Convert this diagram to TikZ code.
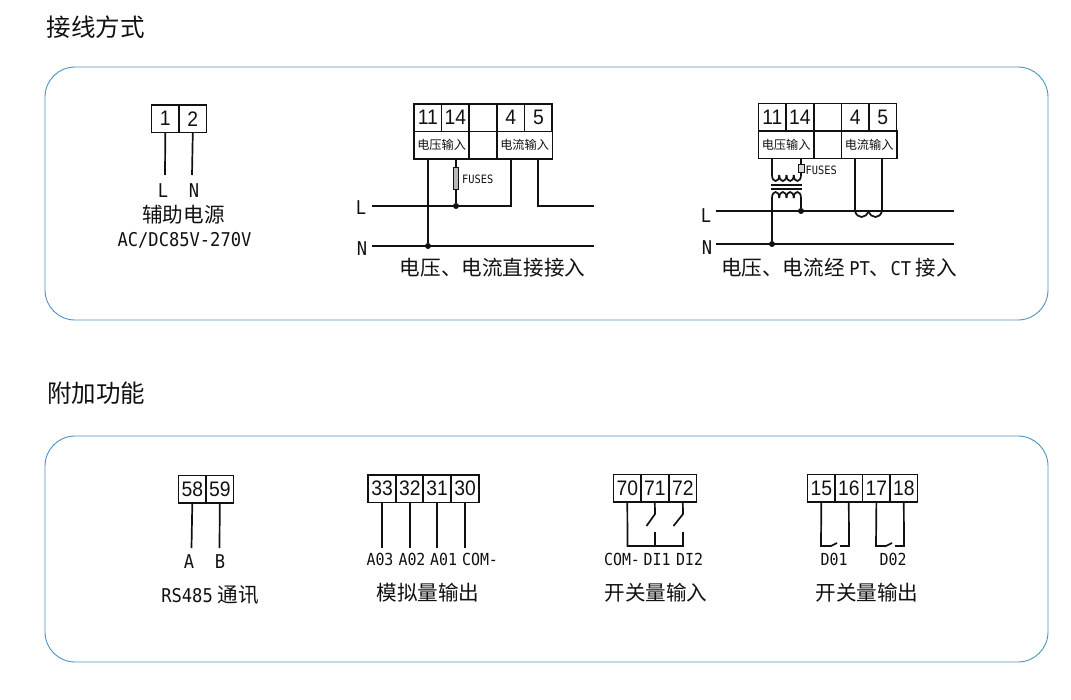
\documentclass[tikz,border=0pt]{standalone}
\usepackage{fontspec}
\usetikzlibrary{calc}
\setmainfont{Noto Sans CJK SC}
\newfontfamily\lat[FakeStretch=0.9]{DejaVu Sans Mono}
\newfontfamily\dig[FakeStretch=0.92]{Liberation Sans}
\newcommand{\capfont}{\lat\fontsize{19}{19}\selectfont}
\definecolor{framec}{HTML}{4A93BE}
\definecolor{inkc}{HTML}{111111}
\tikzset{
  cell/.style={draw=inkc,line width=1.6pt,anchor=north west,minimum width=27.6pt,minimum height=27.5pt,inner sep=0pt,outer sep=0pt,text=inkc,font=\dig\fontsize{21}{21}\selectfont},
  subcell/.style={cell,minimum width=55.3pt,font=\fontsize{12.2}{12}\selectfont},
  panel/.style={draw=framec,line width=0.9pt,rounded corners=30pt},
  wire/.style={draw=inkc,line width=1.7pt},
  junction/.style={circle,fill=inkc,inner sep=0pt,minimum size=6pt},
  head/.style={text=inkc,font=\fontsize{24.5}{25}\selectfont,inner sep=0pt},
  captext/.style={text=inkc,font=\fontsize{20.6}{21}\selectfont,inner sep=0pt},
  tag/.style={text=inkc,font=\lat\fontsize{19}{19}\selectfont,inner sep=0pt},
  smalltag/.style={tag,font=\lat\fontsize{16.6}{17}\selectfont},
  fuse/.style={draw=inkc,fill=gray!55,line width=0.5pt,minimum width=5pt,minimum height=22pt,inner sep=0pt},
  fusetag/.style={text=inkc,font=\lat\fontsize{11.5}{12}\selectfont,inner sep=0pt},
}
\begin{document}
\begin{tikzpicture}[x=1pt,y=-1pt]
\useasboundingbox (0,0) rectangle (1071,699);

\node[head] (title1) at (95.5,27) {接线方式};
\node[head] (title2) at (96,393) {附加功能};
\draw[panel] (45,67) rectangle (1048,320);
\draw[panel] (45,436) rectangle (1048,662);

% power
\foreach \t/\x in {1/151.5,2/179} \node[cell] (p\t) at (\x,105) {\t};
\node[tag] (pl) at (163,191) {L};
\node[tag] (pn) at (194,191) {N};
\coordinate (pa) at (165,175);
\coordinate (pb) at (192,175);
\draw[wire] (p1.south) -- (pa);
\draw[wire] (p2.south) -- (pb);
\node[captext] (pcap) at (183.5,215) {辅助电源};
\node[tag] (pcap2) at (184.5,240) {AC/DC85V-270V};

% direct
\foreach \t/\x in {11/414,14/441.6,4/497,5/524.6} \node[cell] (d\t) at (\x,104) {\t};
\node[cell] (dgap) at (469.2,104) {};
\node[subcell] (dvolt) at (414,131.5) {电压输入};
\node[cell] (dgap2) at (469.2,131.5) {};
\node[subcell] (dcur) at (497,131.5) {电流输入};
\node[tag] (dl) at (361,208) {L};
\node[tag] (dn) at (362,249) {N};
\coordinate (dla) at (372,206);
\coordinate (dlb) at (511,206);
\coordinate (dlc) at (538,206);
\coordinate (dld) at (594,206);
\coordinate (dna) at (372,246);
\coordinate (dnb) at (594,246);
\node[junction] (dj1) at (456,206) {};
\node[junction] (dj2) at (428,246) {};
\node[fuse] (dfuse) at (456,178) {};
\node[fusetag,anchor=west] (dftag) at (462,179) {FUSES};
\draw[wire] (dla) -- (dlb) -- (dlb |- dcur.south);
\draw[wire] (dna) -- (dnb);
\draw[wire] (dld) -- (dlc) -- (dlc |- dcur.south);
\draw[wire] (dj2 |- dvolt.south) -- (dj2);
\draw[wire] (dj1 |- dvolt.south) -- (dfuse.north);
\draw[wire] (dfuse.south) -- (dj1);
\node[captext] (dcap) at (492.5,268) {电压、电流直接接入};

% via transformers
\foreach \t/\x in {11/758.5,14/786,4/841.5,5/869} \node[cell] (t\t) at (\x,103.5) {\t};
\node[cell] (tgap) at (813.7,103.5) {};
\node[subcell] (tvolt) at (758.5,131) {电压输入};
\node[cell] (tgap2) at (813.7,131) {};
\node[subcell] (tcur) at (841.5,131) {电流输入};
\node[tag] (tl) at (706,216) {L};
\node[tag] (tn) at (707,248) {N};
\coordinate (tla) at (716,211);
\coordinate (tlb) at (954,211);
\coordinate (tna) at (716,244);
\coordinate (tnb) at (954,244);
\coordinate (ta) at (772,175);
\coordinate (tb) at (801,175);
\coordinate (tc) at (772,198);
\coordinate (td) at (801,198);
\coordinate (te) at (855,211);
\coordinate (tf) at (882,211);
\node[junction] (tj1) at (801,211) {};
\node[junction] (tj2) at (772,244) {};
\draw[wire,line width=1.3pt] (tla) -- (tlb);
\draw[wire,line width=1.3pt] (tna) -- (tnb);
\draw[wire] (ta |- tvolt.south) -- (ta);
\draw[wire] (tb |- tvolt.south) -- (tb);
\foreach \x in {772,779.25,786.5,793.75}
  \draw[wire] (\x,175) .. controls (\x,183) and (\x+7.25,183) .. (\x+7.25,175);
\draw[wire] (771,185) -- (802,185);
\draw[wire] (771,189) -- (802,189);
\foreach \x in {772,779.25,786.5,793.75}
  \draw[wire] (\x,198) .. controls (\x,190) and (\x+7.25,190) .. (\x+7.25,198);
\draw[wire] (tc) -- (tj2);
\draw[wire] (td) -- (tj1);
\draw[wire] (te |- tcur.south) -- (te);
\draw[wire] (tf |- tcur.south) -- (tf);
\draw[wire] (te) .. controls (857,219) and (866,219) .. (868.5,211);
\draw[wire] (868.5,211) .. controls (871,219) and (880,219) .. (tf);
\node[fuse,minimum width=5.5pt,minimum height=8pt,fill=gray!30] (tfuse) at (801,168) {};
\node[fusetag,anchor=west] (tftag) at (805.5,170) {FUSES};
\node[captext] (tcap) at (839,268) {电压、电流经 {\capfont PT}、{\capfont CT} 接入};

% rs485
\foreach \t/\x in {58/178.5,59/206} \node[cell] (r\t) at (\x,475.5) {\t};
\node[tag] (ra) at (189,562) {A};
\node[tag] (rb) at (220,562) {B};
\coordinate (rc) at (191.5,548);
\coordinate (rd) at (219.5,548);
\draw[wire] (r58.south) -- (rc);
\draw[wire] (r59.south) -- (rd);
\node[captext] (rcap) at (210,595) {{\capfont RS485} 通讯};

% analog
\foreach \t/\x in {33/368.2,32/396,31/423.2,30/451.2} \node[cell] (a\t) at (\x,475) {\t};
\foreach \t/\l/\x in {33/A03/380,32/A02/412,31/A01/443.5,30/COM-/480} \node[smalltag] (al\t) at (\x,559) {\l};
\foreach \t in {33,32,31,30} {
  \coordinate (ae\t) at ($(a\t.south)+(0,45)$);
  \draw[wire] (a\t.south) -- (ae\t);
}
\node[captext] (acap) at (428,593) {模拟量输出};

% switch in
\foreach \t/\x in {70/613.5,71/641,72/669} \node[cell] (s\t) at (\x,474.5) {\t};
\foreach \l/\n/\x in {COM-/a/622,DI1/b/657,DI2/c/689.5} \node[smalltag] (sl\n) at (\x,559) {\l};
\coordinate (sa) at (627.5,546);
\coordinate (sb) at (655,514);
\coordinate (sc) at (646.5,526);
\coordinate (sd) at (655,532);
\coordinate (se) at (655,546);
\coordinate (sf) at (683,514);
\coordinate (sg) at (673.5,526);
\coordinate (sh) at (683,532);
\coordinate (si) at (683,546);
\draw[wire] (s70.south) -- (sa) -- (si) -- (sh);
\draw[wire] (s71.south) -- (sb) -- (sc);
\draw[wire] (sd) -- (se);
\draw[wire] (s72.south) -- (sf) -- (sg);
\node[captext] (scap) at (656,593) {开关量输入};

% switch out
\foreach \t/\x in {15/807.5,16/835,17/862.6,18/890} \node[cell] (o\t) at (\x,474.5) {\t};
\node[smalltag] (ol1) at (834,559) {D01};
\node[smalltag] (ol2) at (893,559) {D02};
\coordinate (oa) at (821,546);
\coordinate (ob) at (831,546);
\coordinate (oc) at (837,543);
\coordinate (od) at (849,546);
\coordinate (oe) at (840,546);
\coordinate (of) at (876,546);
\coordinate (og) at (886,546);
\coordinate (oh) at (892,543);
\coordinate (oi) at (904,546);
\coordinate (oj) at (895,546);
\draw[wire] (o15.south) -- (oa) -- (ob) -- (oc);
\draw[wire] (o16.south) -- (od) -- (oe);
\draw[wire] (o17.south) -- (of) -- (og) -- (oh);
\draw[wire] (o18.south) -- (oi) -- (oj);
\node[captext] (ocap) at (867,593) {开关量输出};

\end{tikzpicture}
\end{document}
